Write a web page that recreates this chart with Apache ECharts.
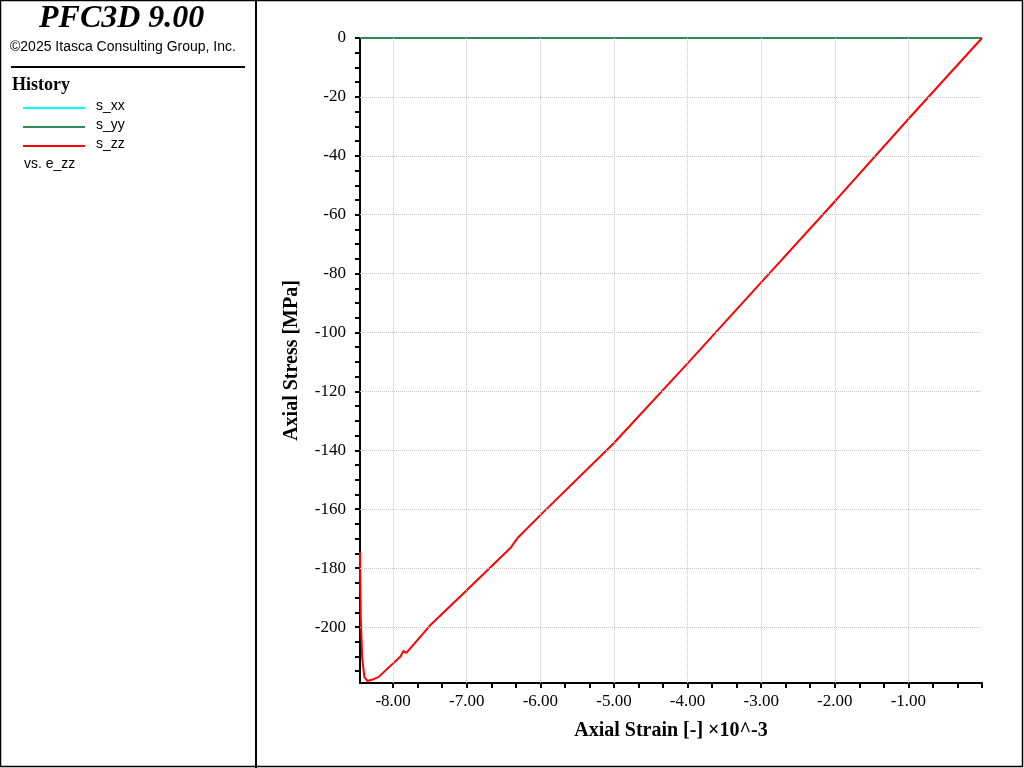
<!DOCTYPE html>
<html><head><meta charset="utf-8">
<script src="https://cdn.jsdelivr.net/npm/echarts@6/dist/echarts.min.js"></script>
<style>html,body{margin:0;padding:0;background:#fff}#c{width:1024px;height:768px}</style>
</head><body><div id="c"></div>
<script>
const strainZZ = [0.00,-1.00,-2.00,-3.00,-4.00,-5.00,-6.00,-6.30,-6.36,-6.40,-7.00,-7.50,-7.82,-7.86,-7.90,-8.20,-8.30,-8.35,-8.39,-8.42,-8.44,-8.45];
const stressZZ = [0.0,-27.5,-55.5,-83.0,-110.5,-137.5,-162.0,-169.5,-171.5,-173.0,-187.5,-199.5,-208.8,-208.1,-210.0,-217.0,-218.0,-218.3,-217.0,-210.5,-196.6,-174.5];
const strainXY = [0.00,-8.45];
const stressXX = [0,0];
const stressYY = [0,0];
const xLabels = [-8,-7,-6,-5,-4,-3,-2,-1];
const yLabels = [0,-20,-40,-60,-80,-100,-120,-140,-160,-180,-200];
const xMinor=[], yMinor=[];
for(let v=-8.0;v<=0.001;v+=1/3) xMinor.push(+v.toFixed(4));
for(let v=0;v>=-215;v-=5) yMinor.push(v);
const chart = echarts.init(document.getElementById('c'));
const serif='"Liberation Serif","DejaVu Serif",serif';
const sans='"Liberation Sans",Arial,sans-serif';
const grid={type:'dotted',color:'#c8c8c8',width:1};
chart.setOption({
  animation:false,
  graphic:[
    {type:'rect',shape:{x:0.5,y:0.5,width:1022,height:766},style:{fill:'none',stroke:'#000',lineWidth:1.5}},
    {type:'line',shape:{x1:256,y1:0,x2:256,y2:768},style:{stroke:'#000',lineWidth:2}},
    {type:'text',left:39,top:3,style:{text:'PFC3D 9.00',font:'italic bold 32px '+serif,fill:'#000'}},
    {type:'text',left:10,top:40,style:{text:'©2025 Itasca Consulting Group, Inc.',font:'14px '+sans,fill:'#000'}},
    {type:'line',shape:{x1:11,y1:67,x2:245,y2:67},style:{stroke:'#000',lineWidth:2}},
    {type:'text',left:12,top:76,style:{text:'History',font:'bold 18px '+serif,fill:'#000'}},
    {type:'line',shape:{x1:23,y1:108,x2:85,y2:108},style:{stroke:'#00ffff',lineWidth:2}},
    {type:'line',shape:{x1:23,y1:127,x2:85,y2:127},style:{stroke:'#2e8b57',lineWidth:2}},
    {type:'line',shape:{x1:23,y1:146,x2:85,y2:146},style:{stroke:'#ff0000',lineWidth:2}},
    {type:'text',left:96,top:99,style:{text:'s_xx',font:'14px '+sans,fill:'#000'}},
    {type:'text',left:96,top:118,style:{text:'s_yy',font:'14px '+sans,fill:'#000'}},
    {type:'text',left:96,top:137,style:{text:'s_zz',font:'14px '+sans,fill:'#000'}},
    {type:'text',left:24,top:157,style:{text:'vs. e_zz',font:'14px '+sans,fill:'#000'}}
  ],
  grid:{left:360,top:38,right:42,bottom:85},
  xAxis:{type:'value',min:-8.45,max:0,
    axisLine:{onZero:false,lineStyle:{color:'#000',width:2}},
    axisTick:{customValues:xMinor,length:5,lineStyle:{color:'#000',width:2}},
    axisLabel:{customValues:xLabels,formatter:v=>v.toFixed(2),color:'#000',fontFamily:serif,fontSize:17,margin:10},
    splitLine:{show:false},
    name:'Axial Strain [-] ×10^-3',nameLocation:'middle',nameGap:38,
    nameTextStyle:{fontFamily:serif,fontWeight:'bold',fontSize:20,color:'#000'}},
  yAxis:{type:'value',min:-219,max:0,
    axisLine:{onZero:false,lineStyle:{color:'#000',width:2}},
    axisTick:{customValues:yMinor,length:5,lineStyle:{color:'#000',width:2}},
    axisLabel:{customValues:yLabels,color:'#000',fontFamily:serif,fontSize:17,margin:14},
    splitLine:{show:false},
    name:'Axial Stress [MPa]',nameLocation:'middle',nameGap:58,
    nameTextStyle:{fontFamily:serif,fontWeight:'bold',fontSize:20,color:'#000'}},
  series:[
    {type:'line',data:strainXY.map((x,i)=>[x,stressXX[i]]),symbol:'none',lineStyle:{color:'#00ffff',width:1},
     markLine:{silent:true,symbol:'none',label:{show:false},lineStyle:grid,
       data:xLabels.map(v=>({xAxis:v})).concat(yLabels.slice(1).map(v=>({yAxis:v})))}},
    {type:'line',data:strainXY.map((x,i)=>[x,stressYY[i]]),symbol:'none',z:3,lineStyle:{color:'#2e8b57',width:2}},
    {type:'line',data:strainZZ.map((x,i)=>[x,stressZZ[i]]),symbol:'none',z:4,lineStyle:{color:'#ff0000',width:2}}
  ]
});
</script></body></html>
